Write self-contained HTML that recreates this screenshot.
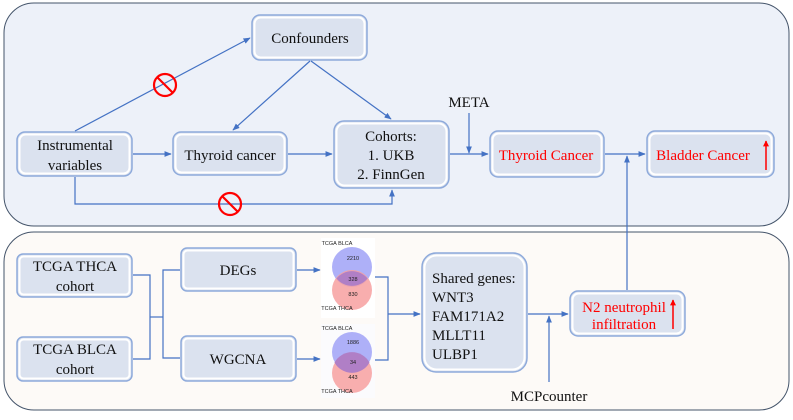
<!DOCTYPE html>
<html><head><meta charset="utf-8"><style>
body{margin:0;width:793px;height:415px;overflow:hidden;background:#fff;font-family:"Liberation Serif",serif;}
</style></head><body>
<svg width="793" height="415" viewBox="0 0 793 415" xmlns="http://www.w3.org/2000/svg" font-family="Liberation Serif, serif">
<defs>
<marker id="a" viewBox="0 0 10 10" refX="9" refY="5" markerWidth="6" markerHeight="6" orient="auto"><path d="M0,1 L10,5 L0,9 z" fill="#4472c4"/></marker>
<marker id="r" viewBox="0 0 10 10" refX="9" refY="5" markerWidth="4" markerHeight="5" orient="auto"><path d="M0,0 L10,5 L0,10 z" fill="#ff0000"/></marker>
</defs>
<rect x="4" y="3" width="785" height="223" rx="30" fill="#edf1f9" stroke="#44546a" stroke-width="1"/>
<rect x="4" y="232" width="785" height="178" rx="30" fill="#fdfaf7" stroke="#44546a" stroke-width="1"/>
<g fill="#dbe2ef" stroke="#8eaadb" stroke-width="1.5">
<rect x="252" y="15" width="115" height="45" rx="8"/>
<rect x="17" y="132" width="115" height="44" rx="8"/>
<rect x="173" y="132" width="114" height="43" rx="8"/>
<rect x="334" y="121" width="115" height="67" rx="10"/>
<rect x="490" y="131" width="114" height="46" rx="8"/>
<rect x="647" y="131" width="127" height="46" rx="8"/>
<rect x="422" y="253" width="105" height="119" rx="14"/>
<rect x="570" y="291" width="115" height="45" rx="8"/>
<rect x="17" y="254" width="115" height="43" rx="6"/>
<rect x="17" y="337" width="115" height="44" rx="6"/>
<rect x="181" y="248" width="115" height="43" rx="6"/>
<rect x="181" y="336" width="115" height="45" rx="6"/>
</g>
<g fill="none" stroke="#fff" stroke-width="2">
<rect x="254.5" y="17.5" width="110" height="40" rx="6"/>
<rect x="19.5" y="134.5" width="110" height="39" rx="6"/>
<rect x="175.5" y="134.5" width="109" height="38" rx="6"/>
<rect x="336.5" y="123.5" width="110" height="62" rx="8"/>
<rect x="492.5" y="133.5" width="109" height="41" rx="6"/>
<rect x="649.5" y="133.5" width="122" height="41" rx="6"/>
<rect x="424.5" y="255.5" width="100" height="114" rx="12"/>
<rect x="572.5" y="293.5" width="110" height="40" rx="6"/>
<rect x="19.5" y="256.5" width="110" height="38" rx="4"/>
<rect x="19.5" y="339.5" width="110" height="39" rx="4"/>
<rect x="183.5" y="250.5" width="110" height="38" rx="4"/>
<rect x="183.5" y="338.5" width="110" height="40" rx="4"/>
</g>
<g fill="none" stroke="#4472c4" stroke-width="1.2">
<line x1="75" y1="131" x2="250" y2="38" marker-end="url(#a)"/>
<line x1="310" y1="61" x2="233" y2="130" marker-end="url(#a)"/>
<line x1="311" y1="61" x2="391" y2="119" marker-end="url(#a)"/>
<line x1="133" y1="154" x2="171" y2="154" marker-end="url(#a)"/>
<line x1="288" y1="154" x2="332" y2="154" marker-end="url(#a)"/>
<line x1="450" y1="154" x2="488" y2="154" marker-end="url(#a)"/>
<line x1="469" y1="113" x2="469" y2="153" marker-end="url(#a)"/>
<line x1="605" y1="154" x2="645" y2="154" marker-end="url(#a)"/>
<line x1="627" y1="290" x2="627" y2="156" marker-end="url(#a)"/>
<polyline points="75,177 75,204 392,204 392,190" marker-end="url(#a)"/>
<polyline points="133,275 150,275 150,359 133,359"/>
<line x1="150" y1="317" x2="163" y2="317"/>
<polyline points="180,270 163,270 163,358 180,358"/>
<line x1="297" y1="270" x2="320" y2="270" marker-end="url(#a)"/>
<line x1="297" y1="359" x2="320" y2="359" marker-end="url(#a)"/>
<polyline points="372,277 388,277 388,360 372,360"/>
<line x1="388" y1="314" x2="420" y2="314" marker-end="url(#a)"/>
<line x1="528" y1="314" x2="568" y2="314" marker-end="url(#a)"/>
<line x1="549" y1="382" x2="549" y2="316" marker-end="url(#a)"/>
</g>
<g fill="none" stroke="#ff0000" stroke-width="2.2">
<circle cx="165" cy="85" r="11"/><line x1="157" y1="77" x2="173" y2="93"/>
<circle cx="230" cy="204" r="11"/><line x1="222" y1="196" x2="238" y2="212"/>
</g>
<g font-size="15" fill="#111" text-anchor="middle">
<text x="310" y="43">Confounders</text>
<text x="75" y="150">Instrumental</text>
<text x="75" y="170">variables</text>
<text x="230" y="160">Thyroid cancer</text>
<text x="391" y="141">Cohorts:</text>
<text x="391" y="160">1. UKB</text>
<text x="391" y="179">2. FinnGen</text>
<text x="469" y="107">META</text>
<text x="546" y="160" fill="#ff0000">Thyroid Cancer</text>
<text x="703" y="160" fill="#ff0000">Bladder Cancer</text>
<text x="75" y="271">TCGA THCA</text>
<text x="75" y="291">cohort</text>
<text x="75" y="354">TCGA BLCA</text>
<text x="75" y="374">cohort</text>
<text x="238" y="275">DEGs</text>
<text x="238" y="364">WGCNA</text>
<text x="624" y="312" fill="#ff0000">N2 neutrophil</text>
<text x="624" y="329" fill="#ff0000">infiltration</text>
<text x="549" y="401">MCPcounter</text>
</g>
<g font-size="15" fill="#111">
<text x="432" y="283">Shared genes:</text>
<text x="432" y="302">WNT3</text>
<text x="432" y="321">FAM171A2</text>
<text x="432" y="340">MLLT11</text>
<text x="432" y="359">ULBP1</text>
</g>
<g stroke="#ff0000" stroke-width="1.5">
<line x1="766" y1="170" x2="766" y2="141" marker-end="url(#r)"/>
<line x1="673" y1="329" x2="673" y2="300" marker-end="url(#r)"/>
</g>
<rect x="321" y="238" width="54" height="80" fill="#fff"/>
<rect x="321" y="324" width="54" height="74" fill="#fbfbfd"/>
<g>
<circle cx="352" cy="267" r="20" fill="#a5a7f7" opacity="0.9"/>
<circle cx="352" cy="290" r="20" fill="#f7a0a0" opacity="0.85"/>
<path d="M336.5,278.5 A20,20 0 0 1 367.5,278.5 A20,20 0 0 1 336.5,278.5z" fill="#b07fc6"/>
<circle cx="352" cy="352" r="20" fill="#a5a7f7" opacity="0.9"/>
<circle cx="352" cy="373" r="20" fill="#f7a0a0" opacity="0.85"/>
<path d="M334.5,362.5 A20,20 0 0 1 369.5,362.5 A20,20 0 0 1 334.5,362.5z" fill="#b07fc6"/>
</g>
<g font-family="Liberation Sans, sans-serif" font-size="5.5" fill="#222" text-anchor="middle">
<text x="337" y="245">TCGA BLCA</text>
<text x="353" y="260">2210</text>
<text x="353" y="281">328</text>
<text x="353" y="296">830</text>
<text x="337" y="310">TCGA THCA</text>
<text x="337" y="330">TCGA BLCA</text>
<text x="353" y="344">1886</text>
<text x="353" y="364">34</text>
<text x="353" y="379">443</text>
<text x="337" y="393">TCGA THCA</text>
</g>
</svg>
</body></html>
